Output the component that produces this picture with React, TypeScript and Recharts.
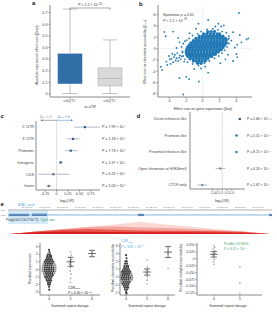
import React from "react";
import {
  ComposedChart,
  ScatterChart,
  AreaChart,
  Area,
  Bar,
  Scatter,
  Line,
  XAxis,
  YAxis,
  ErrorBar,
  ReferenceLine,
  ReferenceArea,
} from "recharts";

const FONT = '"Liberation Sans", Arial, Helvetica, sans-serif';
const AXIS = "#8a8a8a";
const BLUE = "#1f77b4";

// ---- a: absolute expression effect size by group ----
const boxGroups = ["cisQTL⁺", "cisQTL⁻"];
const boxMin = [0.005, 0.005];
const boxQ1 = [0.09, 0.07];
const boxMedian = [0.19, 0.135];
const boxQ3 = [0.345, 0.225];
const boxMax = [0.73, 0.465];
const aTicks = [0, 0.1, 0.2, 0.3, 0.4, 0.5, 0.6, 0.7];

// ---- b: effect on accessibility vs effect on expression ----
const blobRows: [number, number[]][] = [
  [3.0, [0.6, 1.0, 1.4]],
  [2.6, [0.1, 0.5, 0.9, 1.3, 1.7, 2.0]],
  [2.2, [-0.4, 0.0, 0.35, 0.7, 1.05, 1.4, 1.75, 2.1, 2.4]],
  [1.8, [-0.8, -0.45, -0.1, 0.25, 0.6, 0.95, 1.3, 1.65, 2.0, 2.35, 2.7]],
  [1.4, [-1.1, -0.75, -0.4, -0.05, 0.3, 0.65, 1.0, 1.35, 1.7, 2.05, 2.4, 2.75]],
  [1.0, [-1.4, -1.05, -0.7, -0.35, 0.0, 0.35, 0.7, 1.05, 1.4, 1.75, 2.1, 2.45, 2.8]],
  [0.6, [-1.6, -1.25, -0.9, -0.55, -0.2, 0.15, 0.5, 0.85, 1.2, 1.55, 1.9, 2.25, 2.6]],
  [0.2, [-1.8, -1.45, -1.1, -0.75, -0.4, -0.05, 0.3, 0.65, 1.0, 1.35, 1.7, 2.05, 2.4]],
  [-0.2, [-1.9, -1.55, -1.2, -0.85, -0.5, -0.15, 0.2, 0.55, 0.9, 1.25, 1.6, 1.95, 2.2]],
  [-0.6, [-1.95, -1.6, -1.25, -0.9, -0.55, -0.2, 0.15, 0.5, 0.85, 1.2, 1.55, 1.85]],
  [-1.0, [-1.9, -1.55, -1.2, -0.85, -0.5, -0.15, 0.2, 0.55, 0.9, 1.25, 1.5]],
  [-1.4, [-1.75, -1.4, -1.05, -0.7, -0.35, 0.0, 0.35, 0.7, 1.05]],
  [-1.8, [-1.5, -1.15, -0.8, -0.45, -0.1, 0.25, 0.6]],
  [-2.2, [-1.1, -0.75, -0.4, -0.05, 0.3]],
  [-2.6, [-0.6, -0.2]],
];
const sparsePoints: [number, number][] = [
  [4.3, 6.3], [-0.5, 4.4], [0.65, 5.0], [1.85, 4.4], [2.2, 3.9], [2.5, 4.1], [1.5, 3.9], [-0.8, 3.5],
  [-4.55, 2.95], [-4.4, 2.2], [-3.5, 3.0], [-2.9, 1.9], [-2.75, 1.1], [-1.55, 2.7], [-3.1, 0.1],
  [4.4, 2.4], [5.4, 1.8], [5.2, 1.6], [4.6, 1.1], [3.4, 1.4], [4.1, 0.7], [3.1, 1.8], [3.6, 2.9], [3.8, 0.2],
  [-4.95, -3.2], [-4.8, -3.8], [-4.3, -2.3], [-3.9, -1.9], [-4.2, -2.9], [-3.8, -2.7],
  [-3.6, -0.9], [-3.3, -1.1], [-3.0, -0.8], [-2.7, -1.2], [-3.4, -1.5], [-3.1, -1.7], [-2.8, -1.6], [-2.5, -1.4],
  [-3.7, -1.8], [-3.2, -2.1], [-2.9, -2.2], [-2.6, -1.9], [-3.5, -2.4], [-4.0, -1.3], [-2.4, -0.7], [-2.2, -2.3],
  [-1.6, -5.4], [-1.95, -5.0], [-2.75, -5.2], [-0.45, -5.8], [-2.3, -8.1], [0.65, -4.25], [-0.2, -3.5],
  [-1.0, -3.6], [0.3, -3.2], [2.1, -2.6], [2.7, -1.9], [3.6, -2.2],
  [4.0, -0.95], [4.1, -1.5], [3.0, -1.1],
  [-2.3, 0.9], [-2.1, 1.3], [-2.5, 0.3], [-2.4, -0.5], [-2.3, -1.3], [-2.1, -1.9], [-1.8, -2.4], [-1.2, -2.7],
  [-0.5, -3.0], [0.2, -2.6], [0.8, -2.2], [1.4, -1.7], [1.9, -1.3], [2.3, -0.8], [2.6, -0.3], [2.9, 0.3],
  [3.1, 0.9], [3.0, 1.6], [3.1, 2.2], [2.8, 2.8], [2.3, 3.0], [1.8, 3.3], [1.2, 3.5], [0.5, 3.4],
  [-0.2, 3.0], [-0.6, 2.6], [-1.2, 2.3], [-1.6, 1.8], [-1.9, 1.5],
];

// ---- c: enrichment by gene region ----
const regions = ["5' UTR", "3' UTR", "Promoter", "Intergenic", "CDS", "Intron"];
const regionOR = [0.62, 0.36, 0.31, 0.09, -0.07, -0.17];
const regionLow = [0.39, 0.22, 0.19, 0.05, -0.4, -0.22];
const regionHigh = [0.95, 0.5, 0.46, 0.13, 0.28, -0.12];
const regionP = [
  "P = 7.99 × 10⁻⁴",
  "P = 1.18 × 10⁻⁵",
  "P = 7.73 × 10⁻⁵",
  "P = 1.97 × 10⁻³",
  "P = 6.22 × 10⁻¹",
  "P = 5.03 × 10⁻⁶",
];

// ---- d: enrichment by cCRE class ----
const ccres = [
  "Distal enhancer-like",
  "Promoter-like",
  "Proximal enhancer-like",
  "Open chromatin w/ H3K4me3",
  "CTCF-only",
];
const ccreOR = [1.85, 1.5, 1.5, -0.2, -2.1];
const ccreLow = [1.75, 1.35, 1.35, -0.7, -2.6];
const ccreHigh = [1.95, 1.65, 1.65, 0.3, -1.6];
const ccreP = [
  "P = 2.66 × 10⁻¹¹³",
  "P = 5.51 × 10⁻²⁵",
  "P = 8.15 × 10⁻¹⁵",
  "P = 4.26 × 10⁻¹",
  "P = 1.67 × 10⁻²",
];
const ccreColor = ["#3b5670", "#1f77b4", "#2b8cb0", "#8c8c8c", "#7d8ea0"];

// ---- e: locus track ----
const trackStart = 27089650;
const trackEnd = 27163950;
const trackTicks = [
  27095000, 27100000, 27105000, 27110000, 27115000, 27120000, 27125000,
  27130000, 27135000, 27140000, 27145000, 27150000, 27155000, 27160000,
];
const atacPeak = [27089700, 27100900];
const exonStarts = [27089930, 27096400, 27126230, 27163100];
const exonEnds = [27095560, 27100620, 27127920, 27163950];
const ldPos = [0, 10, 20, 30, 40, 50, 60, 70, 80, 90, 100];
const ldOuter = [0, 0.2, 0.4, 0.6, 0.8, 1, 0.8, 0.6, 0.4, 0.2, 0];
const ldMid = [0, 0.2, 0.4, 0.58, 0.62, 0.55, 0.5, 0.42, 0.32, 0.2, 0];
const ldDark = [0, 0.2, 0.36, 0.42, 0.36, 0.3, 0.28, 0.26, 0.22, 0.16, 0];
const ldCore = [0, 0.14, 0.2, 0.18, 0.16, 0.15, 0.14, 0.14, 0.12, 0.1, 0];

// ---- e: dosage panels ----
const exprSwarm: [number, number[]][] = [
  [2.6, [0]], [2.3, [0.02]], [2.0, [-0.05, 0.05]], [1.75, [-0.08, 0.02, 0.1]], [1.5, [-0.1, 0, 0.1]],
  [1.25, [-0.15, -0.05, 0.05, 0.15]], [1.0, [-0.2, -0.1, 0, 0.1, 0.2]],
  [0.75, [-0.25, -0.15, -0.05, 0.05, 0.15, 0.25]], [0.5, [-0.28, -0.18, -0.08, 0.02, 0.12, 0.22, 0.3]],
  [0.25, [-0.3, -0.2, -0.1, 0, 0.1, 0.2, 0.3]], [0, [-0.3, -0.2, -0.1, 0, 0.1, 0.2, 0.3]],
  [-0.25, [-0.3, -0.2, -0.1, 0, 0.1, 0.2, 0.28]], [-0.5, [-0.25, -0.15, -0.05, 0.05, 0.15, 0.25]],
  [-0.75, [-0.22, -0.12, -0.02, 0.08, 0.18]], [-1.0, [-0.18, -0.08, 0.02, 0.12]],
  [-1.25, [-0.12, -0.02, 0.08]], [-1.5, [-0.1, 0, 0.1]], [-1.75, [-0.05, 0.05]], [-2.0, [-0.04, 0.04]],
  [-2.3, [0]], [-2.7, [0.01]],
];
const exprSide: [number, number][] = [
  [5, 2.3], [5.03, 1.9], [4.96, 1.6], [5.05, 1.3], [4.97, 1.1], [5.02, 0.9], [4.95, 0.7], [5.04, 0.5],
  [5, 0.2], [4.98, -0.2], [5.03, -0.6], [5, -1.2], [5, -1.7], [6, 2.5], [6.02, 1.75],
];
const exprMeanDose = [5, 6];
const exprMean = [1.0, 2.1];
const exprErr = [0.6, 0.42];

const accSwarm: [number, number[]][] = [
  [2.8, [0]], [2.4, [0.02]], [2.0, [-0.03, 0.03]], [1.7, [-0.05, 0.05]], [1.4, [-0.08, 0.02, 0.1]],
  [1.15, [-0.1, 0, 0.1]], [0.9, [-0.15, -0.05, 0.05, 0.15]], [0.65, [-0.2, -0.1, 0, 0.1, 0.2]],
  [0.4, [-0.25, -0.15, -0.05, 0.05, 0.15, 0.25]], [0.15, [-0.28, -0.18, -0.08, 0.02, 0.12, 0.22, 0.28]],
  [-0.1, [-0.3, -0.2, -0.1, 0, 0.1, 0.2, 0.3]], [-0.35, [-0.28, -0.18, -0.08, 0.02, 0.12, 0.22, 0.28]],
  [-0.6, [-0.22, -0.12, -0.02, 0.08, 0.18]], [-0.85, [-0.18, -0.08, 0.02, 0.12]], [-1.1, [-0.12, -0.02, 0.08]],
  [-1.35, [-0.08, 0.02, 0.1]], [-1.6, [-0.05, 0.05]], [-1.9, [0]], [-2.1, [0.02]],
];
const accSide: [number, number][] = [
  [5, 2.2], [5.02, 1.3], [4.97, 1.0], [5.03, 0.8], [5, 0.5], [4.98, 0.3], [5.02, 0.0], [5, -0.4],
  [5, -0.9], [6, 1.1], [6, 3.0],
];
const accMeanDose = [5, 6];
const accMean = [0.64, 3.2];
const accErr = [0.4, 0.7];

const methPoints: [number, number][] = [
  [4, 0.048], [4.03, 0.041], [3.97, 0.035], [4.02, 0.029], [3.98, 0.024], [4.04, 0.019], [3.96, 0.014],
  [4.01, 0.009], [3.99, 0.004], [4.02, -0.003], [3.98, -0.011], [4, -0.02],
  [5, -0.03], [5, -0.089], [5, -0.125],
];
const methMeanDose = [4];
const methMean = [0.016];
const methErr = [0.01];

// ---------- derived tables ----------
const boxRows = boxGroups.map((group, i) => ({
  group,
  base: boxMin[i],
  lowW: boxQ1[i] - boxMin[i],
  lowBox: boxMedian[i] - boxQ1[i],
  highBox: boxQ3[i] - boxMedian[i],
  highW: boxMax[i] - boxQ3[i],
}));

const blobPoints = blobRows.flatMap(([y, xs]) => xs.map((x) => ({ x, y })));
const loosePoints = sparsePoints.map(([x, y]) => ({ x, y }));

const regionRows = regions.map((name, i) => ({
  row: i,
  or: regionOR[i],
  ci: [regionOR[i] - regionLow[i], regionHigh[i] - regionOR[i]],
}));

const ccreRows = ccres.map((name, i) => ({
  row: i,
  or: ccreOR[i],
  ci: [ccreOR[i] - ccreLow[i], ccreHigh[i] - ccreOR[i]],
}));

const geneLine = [
  { pos: trackStart, level: 6.9 },
  { pos: trackEnd, level: 6.9 },
];

const ldRows = ldPos.map((pos, i) => ({
  pos,
  outer: ldOuter[i],
  mid: ldMid[i],
  dark: ldDark[i],
  core: ldCore[i],
}));

const swarmPoints = (rows: [number, number[]][], dose: number) =>
  rows.flatMap(([y, dxs]) => dxs.map((dx) => ({ x: dose + dx, y, dx })));
const pairPoints = (pairs: [number, number][]) => pairs.map(([x, y]) => ({ x, y }));
const meanRows = (dose: number[], mean: number[], err: number[]) =>
  dose.map((x, i) => ({ x, y: mean[i], err: err[i] }));

// ---------- ticks (plain svg text, no wrapping) ----------
type Fmt = (v: any) => string;
const plain: Fmt = (v) => String(v);

function tickText(
  anchor: "start" | "middle" | "end",
  place: "below" | "mid" | "above",
  fmt: Fmt = plain,
  size = 3.8,
  fill = "#444"
) {
  const dy = place === "below" ? "0.78em" : place === "mid" ? "0.35em" : "-0.15em";
  return (p: any) => (
    <text x={p.x} y={p.y} dy={dy} textAnchor={anchor} fontSize={size} fill={fill}>
      {fmt(p.payload.value)}
    </text>
  );
}

// ---------- shapes ----------
const boxFill = ["#2f6ea6", "#d9d9d9"];
const boxEdge = ["#2f6ea6", "#a8a8a8"];
const WHISKER = "#9a9a9a";

function whisker(p: any, capAt: "top" | "bottom") {
  const cx = p.x + p.width / 2;
  const cap = p.width * 0.3;
  const yc = capAt === "top" ? p.y : p.y + p.height;
  return (
    <g>
      <line x1={cx} x2={cx} y1={p.y} y2={p.y + p.height} stroke={WHISKER} strokeWidth={0.6} />
      <line x1={cx - cap} x2={cx + cap} y1={yc} y2={yc} stroke={WHISKER} strokeWidth={0.6} />
    </g>
  );
}

function boxPart(p: any) {
  const i = p.index;
  return (
    <rect x={p.x} y={p.y} width={p.width} height={p.height} fill={boxFill[i]} stroke={boxEdge[i]} strokeWidth={0.5} />
  );
}

const dot = (r: number, fill: string, opacity = 1) => (p: any) =>
  <circle cx={p.cx} cy={p.cy} r={r} fill={fill} fillOpacity={opacity} />;

const swarmDot = (p: any) => (
  <circle
    cx={p.cx}
    cy={p.cy}
    r={1.1}
    fill={Math.abs(p.payload.dx) > 0.2 ? "#8a8a8a" : "#1c1c1c"}
    fillOpacity={0.85}
  />
);

const meanTick = (p: any) => (
  <line x1={p.cx - 4} x2={p.cx + 4} y1={p.cy} y2={p.cy} stroke="#111" strokeWidth={0.6} />
);

const forestSquare = (color: (row: number) => string) => (p: any) => (
  <rect x={p.cx - 1.1} y={p.cy - 1.1} width={2.2} height={2.2} fill={color(p.payload.row)} />
);

const nothing = () => <g />;

// ---------- panels ----------
function PanelA() {
  return (
    <ComposedChart width={132} height={112} data={boxRows} margin={{ top: 5, right: 2, bottom: 0, left: 0 }} barCategoryGap="20%">
      <XAxis dataKey="group" type="category" height={15} stroke={AXIS} tick={tickText("middle", "below")} tickSize={1.5} tickMargin={0.5} interval={0} />
      <YAxis
        type="number"
        domain={[-0.025, 0.765]}
        ticks={aTicks}
        width={50}
        stroke={AXIS}
        tick={tickText("end", "mid", (v) => (v === 0 ? "0" : v.toFixed(1)))}
        tickSize={1.5}
        tickMargin={1}
        interval={0}
      />
      <Bar dataKey="base" stackId="b" fill="none" isAnimationActive={false} />
      <Bar dataKey="lowW" stackId="b" shape={(p: any) => whisker(p, "bottom")} isAnimationActive={false} />
      <Bar dataKey="lowBox" stackId="b" shape={boxPart} isAnimationActive={false} />
      <Bar dataKey="highBox" stackId="b" shape={boxPart} isAnimationActive={false} />
      <Bar dataKey="highW" stackId="b" shape={(p: any) => whisker(p, "top")} isAnimationActive={false} />
    </ComposedChart>
  );
}

function PanelB() {
  return (
    <ScatterChart width={139} height={112} margin={{ top: 5, right: 25, bottom: 0, left: 0 }}>
      <XAxis type="number" dataKey="x" domain={[-5.3, 5.85]} ticks={[-4, -2, 0, 2, 4]} height={15} stroke={AXIS} tick={tickText("middle", "below")} tickSize={1.5} tickMargin={0.5} interval={0} />
      <YAxis type="number" dataKey="y" domain={[-8.55, 7.7]} ticks={[-8, -6, -4, -2, 0, 2, 4, 6]} width={20} stroke={AXIS} tick={tickText("end", "mid")} tickSize={1.5} tickMargin={1} interval={0} />
      <Scatter data={blobPoints} shape={dot(1.65, BLUE, 1)} isAnimationActive={false} />
      <Scatter data={loosePoints} shape={dot(0.95, BLUE, 0.95)} isAnimationActive={false} />
      <ReferenceLine x={0} stroke="#dfe6ee" strokeWidth={0.5} />
      <ReferenceLine y={0} stroke="#dfe6ee" strokeWidth={0.5} />
    </ScatterChart>
  );
}

function PanelC() {
  return (
    <ScatterChart width={140} height={88} margin={{ top: 11, right: 0, bottom: 0, left: 0 }}>
      <XAxis
        type="number"
        dataKey="or"
        domain={[-0.45, 0.95]}
        ticks={[-0.25, 0, 0.25, 0.5, 0.75]}
        height={8}
        stroke={AXIS}
        tick={tickText("middle", "below", (v) => (v === 0 ? "0" : v.toFixed(2)))}
        tickSize={1.5}
        tickMargin={0.5}
        interval={0}
      />
      <YAxis
        yAxisId="l"
        type="number"
        dataKey="row"
        domain={[-0.52, 5.34]}
        reversed
        ticks={[0, 1, 2, 3, 4, 5]}
        width={36}
        stroke={AXIS}
        tick={tickText("end", "mid", (i) => regions[i])}
        tickLine={false}
        tickSize={1}
        tickMargin={1}
        interval={0}
      />
      <YAxis
        yAxisId="p"
        orientation="right"
        type="number"
        dataKey="row"
        domain={[-0.52, 5.34]}
        reversed
        ticks={[0, 1, 2, 3, 4, 5]}
        width={40}
        axisLine={false}
        tickLine={false}
        tick={tickText("start", "mid", (i) => regionP[i], 3.6, "#333")}
        tickSize={1.5}
        tickMargin={0.5}
        interval={0}
      />
      <ReferenceLine yAxisId="l" x={0} stroke="#9a9a9a" strokeWidth={0.5} strokeDasharray="1.5 1" />
      <Scatter yAxisId="l" data={regionRows} shape={forestSquare((r) => (regionOR[r] > 0.05 ? "#2a5d8f" : "#707070"))} isAnimationActive={false}>
        <ErrorBar dataKey="ci" direction="x" width={0} stroke="#9aaabb" strokeWidth={0.8} isAnimationActive={false} />
      </Scatter>
      <Scatter yAxisId="p" data={regionRows} shape={nothing} isAnimationActive={false} />
    </ScatterChart>
  );
}

function PanelD() {
  return (
    <ScatterChart width={139} height={90} margin={{ top: 4, right: 0, bottom: 0, left: 0 }}>
      <XAxis
        type="number"
        dataKey="or"
        domain={[-3.4, 2.4]}
        ticks={[-1, -0.5, 0, 0.5, 1]}
        height={9}
        stroke={AXIS}
        tick={tickText("middle", "below", (v) => (v === 0 ? "0" : v.toFixed(1)), 3.3)}
        tickSize={1.5}
        tickMargin={0.5}
        interval={0}
      />
      <YAxis
        yAxisId="l"
        type="number"
        dataKey="row"
        domain={[-0.424, 4.24]}
        reversed
        ticks={[0, 1, 2, 3, 4]}
        width={52}
        stroke={AXIS}
        tick={tickText("end", "mid", (i) => ccres[i], 3.7)}
        tickLine={false}
        tickSize={1.5}
        tickMargin={2}
        interval={0}
      />
      <YAxis
        yAxisId="p"
        orientation="right"
        type="number"
        dataKey="row"
        domain={[-0.424, 4.24]}
        reversed
        ticks={[0, 1, 2, 3, 4]}
        width={32}
        axisLine={false}
        tickLine={false}
        tick={tickText("start", "mid", (i) => ccreP[i], 3.4, "#333")}
        tickSize={1.5}
        tickMargin={0.5}
        interval={0}
      />
      <ReferenceLine yAxisId="l" x={0} stroke="#9a9a9a" strokeWidth={0.5} strokeDasharray="1.5 1" />
      <Scatter yAxisId="l" data={ccreRows} shape={forestSquare((r) => ccreColor[r])} isAnimationActive={false}>
        <ErrorBar dataKey="ci" direction="x" width={0} stroke="#9aaabb" strokeWidth={0.8} isAnimationActive={false} />
      </Scatter>
      <Scatter yAxisId="p" data={ccreRows} shape={nothing} isAnimationActive={false} />
    </ScatterChart>
  );
}

function LocusTrack() {
  return (
    <ComposedChart width={277} height={22} data={geneLine} margin={{ top: 0, right: 5, bottom: 0, left: 8 }}>
      <XAxis
        type="number"
        dataKey="pos"
        orientation="top"
        domain={[trackStart, trackEnd]}
        ticks={trackTicks}
        height={6}
        stroke="#b5b5b5"
        tick={tickText("middle", "above", (v) => v.toLocaleString("en-US"), 2.2, "#777")}
        tickSize={1}
        tickMargin={0.3}
        interval={0}
        allowDataOverflow
      />
      <YAxis type="number" domain={[0, 10]} hide />
      <ReferenceArea x1={atacPeak[0]} x2={atacPeak[1]} y1={1.2} y2={10} fill="#9fd0f0" fillOpacity={0.45} stroke="none" />
      <Line dataKey="level" stroke="#86b6de" strokeWidth={1} dot={false} isAnimationActive={false} />
      {exonStarts.map((s, i) => (
        <ReferenceArea key={i} x1={s} x2={exonEnds[i]} y1={6.2} y2={7.6} fill="#1f4e8c" fillOpacity={0.9} stroke="none" />
      ))}
    </ComposedChart>
  );
}

function LdTriangle() {
  return (
    <AreaChart width={277} height={13} data={ldRows} margin={{ top: 0, right: 7, bottom: 1, left: 10 }}>
      <XAxis type="number" dataKey="pos" domain={[0, 100]} hide />
      <YAxis type="number" domain={[0, 1]} hide />
      <Area type="linear" dataKey="outer" fill="#fbd6d3" fillOpacity={1} stroke="none" isAnimationActive={false} />
      <Area type="linear" dataKey="mid" fill="#f4a49e" fillOpacity={1} stroke="none" isAnimationActive={false} />
      <Area type="linear" dataKey="dark" fill="#e9574d" fillOpacity={1} stroke="none" isAnimationActive={false} />
      <Area type="linear" dataKey="core" fill="#d61f1f" fillOpacity={1} stroke="none" isAnimationActive={false} />
    </AreaChart>
  );
}

function DosagePanel(props: {
  width: number;
  axisWidth: number;
  right: number;
  xDomain: [number, number];
  xTicks: number[];
  yDomain: [number, number];
  yTicks: number[];
  yFormat?: Fmt;
  swarm?: any[];
  side: any[];
  means: any[];
}) {
  return (
    <ScatterChart width={props.width} height={64} margin={{ top: 5, right: props.right, bottom: 0, left: 0 }}>
      <XAxis type="number" dataKey="x" domain={props.xDomain} ticks={props.xTicks} height={7} stroke={AXIS} tick={tickText("middle", "below")} tickSize={1.5} tickMargin={0.5} interval={0} allowDataOverflow />
      <YAxis
        type="number"
        dataKey="y"
        domain={props.yDomain}
        ticks={props.yTicks}
        width={props.axisWidth}
        stroke={AXIS}
        tick={tickText("end", "mid", props.yFormat || plain, 3.4)}
        tickSize={1.5}
        tickMargin={0.8}
        interval={0}
        allowDataOverflow
      />
      {props.swarm && <Scatter data={props.swarm} shape={swarmDot} isAnimationActive={false} />}
      <Scatter data={props.side} shape={dot(0.8, "#8f8f8f", 0.9)} isAnimationActive={false} />
      <Scatter data={props.means} shape={meanTick} isAnimationActive={false}>
        <ErrorBar dataKey="err" direction="y" width={3} stroke="#111" strokeWidth={0.6} isAnimationActive={false} />
      </Scatter>
    </ScatterChart>
  );
}

function Annotations() {
  return (
    <svg width={277} height={312} style={{ position: "absolute", left: 0, top: 0, pointerEvents: "none" }} fontFamily={FONT}>
      <g fontSize={6} fontWeight="bold" fill="#111">
        <text x={32} y={5}>a</text>
        <text x={139} y={5.5}>b</text>
        <text x={0.5} y={118}>c</text>
        <text x={136.5} y={118}>d</text>
        <text x={0.5} y={205.5}>e</text>
      </g>

      {/* a */}
      <text x={90} y={6} fontSize={3.6} textAnchor="middle" fill="#333">
        <tspan fontStyle="italic">P</tspan> &lt; 2.2 × 10<tspan dy={-1.3} fontSize={2.6}>−16</tspan>
      </text>
      <path d="M70 10 V8 H110 V10" fill="none" stroke="#555" strokeWidth={0.5} />
      <text transform="translate(37.5,55) rotate(-90)" textAnchor="middle" fontSize={3.5} fill="#333">
        Absolute expression effect size (|β<tspan dy={0.9} fontSize={2.6}>exp</tspan><tspan dy={-0.9}>|)</tspan>
      </text>
      <text x={90} y={108} fontSize={3.6} textAnchor="middle" fill="#333">sc-eTR</text>

      {/* b */}
      <text x={163} y={16} fontSize={3.6} fill="#333">
        Spearman <tspan fontStyle="italic">ρ</tspan> = 0.61
      </text>
      <text x={163} y={21.5} fontSize={3.6} fill="#333">
        <tspan fontStyle="italic">P</tspan> &lt; 2.2 × 10<tspan dy={-1.3} fontSize={2.6}>−16</tspan>
      </text>
      <text transform="translate(145.5,52) rotate(-90)" textAnchor="middle" fontSize={3.4} fill="#333">
        Effect size on chromatin accessibility (β<tspan dy={0.9} fontSize={2.5}>acc</tspan><tspan dy={-0.9}>)</tspan>
      </text>
      <text x={203} y={109.5} fontSize={3.6} textAnchor="middle" fill="#333">
        Effect size on gene expression (β<tspan dy={0.9} fontSize={2.6}>exp</tspan><tspan dy={-0.9}>)</tspan>
      </text>

      {/* c header */}
      <text x={40} y={117.5} fontSize={3.5} fill="#7d95ad">
        β<tspan dy={0.8} fontSize={2.4}>exp</tspan><tspan dy={-0.8}> &lt; 0</tspan>
      </text>
      <text x={58} y={117.5} fontSize={3.5} fill="#3b7dbf">
        β<tspan dy={0.8} fontSize={2.4}>exp</tspan><tspan dy={-0.8}> &gt; 0</tspan>
      </text>
      <line x1={56.5} x2={41.5} y1={120.3} y2={120.3} stroke="#555" strokeWidth={0.5} />
      <path d="M40.5 120.3 L42.5 119.3 L42.5 121.3 Z" fill="#555" />
      <line x1={56.5} x2={72} y1={120.3} y2={120.3} stroke="#3b7dbf" strokeWidth={0.5} />
      <path d="M73 120.3 L71 119.3 L71 121.3 Z" fill="#3b7dbf" />
      <text x={67} y={201.5} fontSize={3.6} textAnchor="middle" fill="#333">
        log<tspan dy={0.8} fontSize={2.5}>2</tspan><tspan dy={-0.8}>(OR)</tspan>
      </text>
      <text x={222} y={201.5} fontSize={3.6} textAnchor="middle" fill="#333">
        log<tspan dy={0.8} fontSize={2.5}>2</tspan><tspan dy={-0.8}>(OR)</tspan>
      </text>

      {/* e track */}
      <text x={18} y={206.3} fontSize={3.4} fill="#55ade2">ATAC peak</text>
      <text x={1} y={210.5} fontSize={2} fill="#666">chr1</text>
      <text x={1} y={215.5} fontSize={2} fill="#666">Gene</text>
      <text x={6} y={221} fontSize={3.6} fill="#333">Poly(GCCGCTGCT)</text>
      <text x={40.5} y={221} fontSize={3.6} fill="#2e9e5b">CpG site</text>

      {/* e dosage panels */}
      <text transform="translate(30.5,269) rotate(-90)" textAnchor="middle" fontSize={3.4} fill="#333">Residual expression</text>
      <text transform="translate(113.5,268) rotate(-90)" textAnchor="middle" fontSize={3.4} fill="#333">Residual chromatin accessibility</text>
      <text transform="translate(181.5,268) rotate(-90)" textAnchor="middle" fontSize={3.4} fill="#333">Residual methylation probability</text>
      <text x={70} y={307} fontSize={3.5} textAnchor="middle" fill="#333">Summed repeat dosage</text>
      <text x={147} y={307} fontSize={3.5} textAnchor="middle" fill="#333">Summed repeat dosage</text>
      <text x={228} y={307} fontSize={3.5} textAnchor="middle" fill="#333">Summed repeat dosage</text>

      <text x={68} y={288.5} fontSize={3.3} fill="#222">
        CDR<tspan dy={0.8} fontSize={2.3}>FDR</tspan>
      </text>
      <text x={68} y={294} fontSize={3.3} fill="#222">
        <tspan fontStyle="italic">P</tspan> = 6.40 × 10<tspan dy={-1.2} fontSize={2.3}>−18</tspan>
      </text>
      <text x={121} y={242} fontSize={3.3} fill="#49a7e0">
        CDR<tspan dy={0.8} fontSize={2.3}>FDR</tspan>
      </text>
      <text x={121} y={247.5} fontSize={3.3} fill="#49a7e0">
        <tspan fontStyle="italic">P</tspan> = 3.81 × 10<tspan dy={-1.2} fontSize={2.3}>−5</tspan>
      </text>
      <text x={224} y={244.5} fontSize={3.3} fill="#3aaa6a">PacBio LR WGS</text>
      <text x={224} y={250} fontSize={3.3} fill="#3aaa6a">
        <tspan fontStyle="italic">P</tspan> = 6.11 × 10<tspan dy={-1.2} fontSize={2.3}>−4</tspan>
      </text>
    </svg>
  );
}

const at = (left: number, top: number, child: React.ReactNode) => (
  <div style={{ position: "absolute", left, top }}>{child}</div>
);

export default function App() {
  return (
    <div style={{ position: "absolute", left: 0, top: 0, width: 277, height: 312, background: "#fff", fontFamily: FONT, overflow: "hidden" }}>
      {at(0, 0, <PanelA />)}
      {at(138, 0, <PanelB />)}
      {at(0, 110, <PanelC />)}
      {at(138, 108, <PanelD />)}
      {at(0, 204, <LocusTrack />)}
      {at(0, 222, <LdTriangle />)}
      {at(0, 238,
        <DosagePanel
          width={104}
          axisWidth={40}
          right={4}
          xDomain={[3.58, 6.37]}
          xTicks={[4, 5, 6]}
          yDomain={[-3.4, 3.5]}
          yTicks={[-3, -2, -1, 0, 1, 2, 3]}
          swarm={swarmPoints(exprSwarm, 4)}
          side={pairPoints(exprSide)}
          means={meanRows(exprMeanDose, exprMean, exprErr)}
        />
      )}
      {at(104, 238,
        <DosagePanel
          width={74}
          axisWidth={16}
          right={3}
          xDomain={[3.71, 6.33]}
          xTicks={[4, 5, 6]}
          yDomain={[-2.3, 4.36]}
          yTicks={[-2, -1, 0, 1, 2, 3, 4]}
          swarm={swarmPoints(accSwarm, 4)}
          side={pairPoints(accSide)}
          means={meanRows(accMeanDose, accMean, accErr)}
        />
      )}
      {at(178, 238,
        <DosagePanel
          width={99}
          axisWidth={19}
          right={15}
          xDomain={[3.35, 5.85]}
          xTicks={[4, 5]}
          yDomain={[-0.132, 0.057]}
          yTicks={[0.05, 0.025, 0, -0.025, -0.05, -0.075, -0.1, -0.125]}
          yFormat={(v: number) => (v === 0 ? "0" : v.toFixed(3))}
          side={pairPoints(methPoints)}
          means={meanRows(methMeanDose, methMean, methErr)}
        />
      )}
      <Annotations />
    </div>
  );
}
